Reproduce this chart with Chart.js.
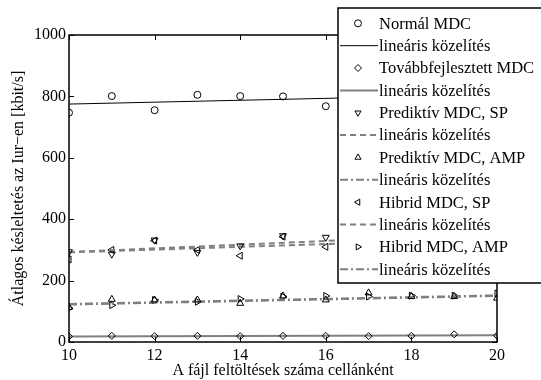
<!DOCTYPE html>
<html>
<head>
<meta charset="utf-8">
<script src="https://cdn.jsdelivr.net/npm/chart.js@4"></script>
<style>
html, body { margin: 0; padding: 0; background: #fff; }
#wrap { width: 541px; height: 380px; }
</style>
</head>
<body>
<div id="wrap"><canvas id="chart" width="541" height="380"></canvas></div>
<script>
// x tengely: fájl feltöltések száma cellánként
const cellUploads = [10, 11, 12, 13, 14, 15, 16, 17, 18, 19, 20];
const xTicks = [10, 12, 14, 16, 18, 20];
const yTicks = [0, 200, 400, 600, 800, 1000];

// mért értékek [kbit/s]
const normalMdc = [747, 801, 755, 805, 801, 800, 768, 790, 812, 800, 815];
const tovabbMdc = [18, 20, 19, 20, 19, 20, 20, 19, 20, 25, 21];
const predSp = [294, 286, 332, 292, 313, 346, 341, 330, 352, 340, 358];
const predAmp = [113, 139, 137, 137, 126, 150, 137, 160, 148, 148, 143];
const hibSp = [269, 300, 330, 300, 281, 343, 310, 320, 330, 315, 325];
const hibAmp = [110, 120, 137, 131, 140, 148, 150, 148, 151, 151, 158];

// lineáris közelítések végpontjai (x = 10 és x = 20)
const fitX = [10, 20];
const normalFit = [775, 806];
const tovabbFit = [18, 22];
const predSpFit = [293, 353];
const predAmpFit = [124, 152];
const hibSpFit = [292, 337];
const hibAmpFit = [122, 150];

const FONT = "'Liberation Serif', 'Times New Roman', serif";
const GRAY = '#808080';

function pts(xs, ys) {
    return xs.map((x, i) => ({ x: x, y: ys[i] }));
}

function markerSet(label, ys, style, rot, radius) {
    return {
        label: label,
        data: pts(cellUploads, ys),
        showLine: false,
        pointStyle: style,
        rotation: rot,
        pointRadius: radius,
        pointBorderWidth: 1,
        pointBorderColor: '#000',
        pointBackgroundColor: 'rgba(0,0,0,0)',
        borderColor: '#000',
        backgroundColor: 'rgba(0,0,0,0)'
    };
}

function fitSet(ys, color, width, dash) {
    return {
        label: 'lineáris közelítés',
        data: pts(fitX, ys),
        showLine: true,
        pointRadius: 0,
        borderColor: color,
        borderWidth: width,
        borderDash: dash,
        fill: false
    };
}

const datasets = [
    markerSet('Normál MDC', normalMdc, 'circle', 0, 3.5),
    fitSet(normalFit, '#000', 1, []),
    markerSet('Továbbfejlesztett MDC', tovabbMdc, 'rectRot', 0, 3.5),
    fitSet(tovabbFit, GRAY, 2, []),
    markerSet('Prediktív MDC, SP', predSp, 'triangle', 180, 4),
    fitSet(predSpFit, GRAY, 2, [6, 4]),
    markerSet('Prediktív MDC, AMP', predAmp, 'triangle', 0, 4),
    fitSet(predAmpFit, GRAY, 2, [8, 3, 2, 3]),
    markerSet('Hibrid MDC, SP', hibSp, 'triangle', 270, 4),
    fitSet(hibSpFit, GRAY, 2, [6, 4]),
    markerSet('Hibrid MDC, AMP', hibAmp, 'triangle', 90, 4),
    fitSet(hibAmpFit, GRAY, 2, [8, 3, 2, 3])
];

// keret és befelé mutató osztásjelek (MATLAB stílus)
const framePlugin = {
    id: 'frame',
    afterDatasetsDraw(chart) {
        const ctx = chart.ctx;
        const a = chart.chartArea;
        const xs = chart.scales.x, ys = chart.scales.y;
        ctx.save();
        ctx.strokeStyle = '#000';
        ctx.lineWidth = 1;
        ctx.beginPath();
        xTicks.forEach(t => {
            const px = Math.round(xs.getPixelForValue(t)) + 0.5;
            ctx.moveTo(px, a.bottom); ctx.lineTo(px, a.bottom - 5);
            ctx.moveTo(px, a.top); ctx.lineTo(px, a.top + 5);
        });
        yTicks.forEach(t => {
            const py = Math.round(ys.getPixelForValue(t)) + 0.5;
            ctx.moveTo(a.left, py); ctx.lineTo(a.left + 5, py);
            ctx.moveTo(a.right, py); ctx.lineTo(a.right - 5, py);
        });
        ctx.stroke();
        ctx.lineWidth = 1.5;
        ctx.strokeRect(a.left, a.top, a.right - a.left, a.bottom - a.top);
        ctx.restore();
    }
};

// jelmagyarázat a jobb felső sarokban
const legendPlugin = {
    id: 'boxLegend',
    afterDraw(chart) {
        const ctx = chart.ctx;
        const bx = 338, by = 8, bw = 210, bh = 275;
        const rowStart = 23.3, rowStep = 22.36;
        ctx.save();
        ctx.fillStyle = '#fff';
        ctx.fillRect(bx, by, bw, bh);
        ctx.strokeStyle = '#000';
        ctx.lineWidth = 1.5;
        ctx.strokeRect(bx, by, bw, bh);
        ctx.font = '16.5px ' + FONT;
        ctx.textBaseline = 'middle';
        ctx.textAlign = 'left';
        chart.data.datasets.forEach((ds, i) => {
            const cy = rowStart + i * rowStep;
            if (ds.showLine) {
                ctx.save();
                ctx.strokeStyle = ds.borderColor;
                ctx.lineWidth = ds.borderWidth;
                ctx.setLineDash(ds.borderDash);
                ctx.beginPath();
                ctx.moveTo(bx + 2, cy);
                ctx.lineTo(bx + 40, cy);
                ctx.stroke();
                ctx.restore();
            } else {
                ctx.save();
                ctx.strokeStyle = '#000';
                ctx.fillStyle = 'rgba(0,0,0,0)';
                ctx.lineWidth = 1;
                Chart.helpers.drawPoint(ctx, {
                    pointStyle: ds.pointStyle,
                    rotation: ds.rotation,
                    radius: 3.5,
                    borderWidth: 1
                }, bx + 20, cy);
                ctx.restore();
            }
            ctx.fillStyle = '#000';
            ctx.fillText(ds.label, bx + 41, cy + 1);
        });
        ctx.restore();
    }
};

new Chart(document.getElementById('chart').getContext('2d'), {
    type: 'scatter',
    data: { datasets: datasets },
    options: {
        responsive: false,
        animation: false,
        layout: { padding: { top: 35, right: 44, left: 0, bottom: 0 } },
        plugins: {
            legend: { display: false },
            tooltip: { enabled: false }
        },
        scales: {
            x: {
                type: 'linear',
                min: 10,
                max: 20,
                afterBuildTicks: s => { s.ticks = xTicks.map(v => ({ value: v })); },
                afterFit: s => { s.height = 38; },
                grid: { display: false, drawTicks: false },
                border: { display: false },
                ticks: { color: '#000', font: { family: FONT, size: 16 }, padding: 4, maxRotation: 0, callback: v => String(v) },
                title: {
                    display: true,
                    text: 'A fájl feltöltések száma cellánként',
                    color: '#000',
                    font: { family: FONT, size: 16 },
                    padding: { top: 0, bottom: 0 }
                }
            },
            y: {
                min: 0,
                max: 1000,
                afterBuildTicks: s => { s.ticks = yTicks.map(v => ({ value: v })); },
                afterFit: s => { s.width = 69; },
                grid: { display: false, drawTicks: false },
                border: { display: false },
                ticks: { color: '#000', font: { family: FONT, size: 16 }, padding: 3, callback: v => String(v) },
                title: {
                    display: true,
                    text: 'Átlagos késleltetés az Iur−en [kbit/s]',
                    color: '#000',
                    font: { family: FONT, size: 16 },
                    padding: { top: 9, bottom: 0 }
                }
            }
        }
    },
    plugins: [framePlugin, legendPlugin]
});
</script>
</body>
</html>
